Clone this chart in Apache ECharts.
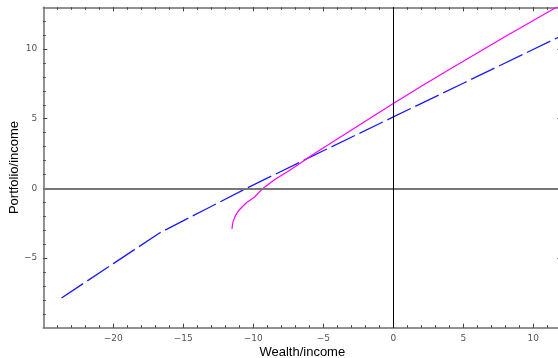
<!DOCTYPE html>
<html>
<head>
<meta charset="utf-8">
<script src="https://cdn.jsdelivr.net/npm/echarts@6/dist/echarts.min.js"></script>
<style>
  html, body { margin: 0; padding: 0; background: #fff; }
  #chart { width: 558px; height: 358px; }
</style>
</head>
<body>
<div id="chart"></div>
<script>
// wealth/income -> portfolio/income
const blueX = [-23.7, -20, -16.7, -13.5, -10.5, -5, 0, 5, 12];
const blueY = [-7.87, -5.4, -3.2, -1.55, 0, 2.7, 5.13, 7.55, 10.95];

const magentaX = [-11.52, -11.5, -11.44, -11.3, -11.15, -10.99, -10.75, -10.51, -9.91, -9.32, -8.49, -7.54, -6.7, -6.11, -5.6, -4, -2, 0, 2, 4, 6, 8, 10, 12];
const magentaY = [-2.91, -2.7, -2.37, -2.01, -1.75, -1.53, -1.28, -1.05, -0.62, 0, 0.62, 1.22, 1.77, 2.18, 2.52, 3.55, 4.82, 6.1, 7.33, 8.53, 9.72, 10.9, 12.05, 13.2];

const xMajor = [-20, -15, -10, -5, 0, 5, 10];
const yMajor = [-5, 0, 5, 10];
const xMinor = [];
for (let v = -24; v <= 11; v++) xMinor.push(v);
const yMinor = [];
for (let v = -9; v <= 12; v++) yMinor.push(v);

const X_MIN = -25, X_MAX = 12, Y_MIN = -10, Y_MAX = 13;

const fmt = v => (v < 0 ? '\u2212' + Math.abs(v) : String(v));
const frameColor = '#6e6e6e';
const tickFont = { color: '#555', fontSize: 9, fontFamily: 'DejaVu Sans' };

function frameAxis(kind, position, ticks, len, withLabels, withLine) {
  return {
    type: 'value',
    position: position,
    min: kind === 'x' ? X_MIN : Y_MIN,
    max: kind === 'x' ? X_MAX : Y_MAX,
    splitLine: { show: false },
    axisLine: { show: withLine, onZero: false, lineStyle: { color: frameColor, width: 1.5 } },
    axisTick: { show: true, inside: true, length: len, customValues: ticks, lineStyle: { color: '#444', width: 1 } },
    axisLabel: withLabels
      ? Object.assign({ show: true, customValues: ticks, formatter: fmt, margin: 6 }, tickFont)
      : { show: false },
  };
}

const chart = echarts.init(document.getElementById('chart'), null, { renderer: 'canvas' });

const xAxes = [
  frameAxis('x', 'bottom', xMajor, 4, true, true),
  frameAxis('x', 'bottom', xMinor, 2.5, false, false),
  frameAxis('x', 'top', xMajor, 4, false, true),
  frameAxis('x', 'top', xMinor, 2.5, false, false),
];
xAxes[0].name = 'Wealth/income';
xAxes[0].nameLocation = 'middle';
xAxes[0].nameGap = 18;
xAxes[0].nameMoveOverlap = false;
xAxes[0].nameTextStyle = { color: '#000', fontSize: 13, fontFamily: 'Liberation Sans' };

const yAxes = [
  frameAxis('y', 'left', yMajor, 4, true, true),
  frameAxis('y', 'left', yMinor, 2.5, false, false),
  frameAxis('y', 'right', yMajor, 4, false, true),
  frameAxis('y', 'right', yMinor, 2.5, false, false),
];
yAxes[0].name = 'Portfolio/income';
yAxes[0].nameLocation = 'middle';
yAxes[0].nameGap = 22;
yAxes[0].nameMoveOverlap = false;
yAxes[0].nameTextStyle = { color: '#000', fontSize: 13, fontFamily: 'Liberation Sans' };

chart.setOption({
  animation: false,
  backgroundColor: '#fff',
  grid: { left: 43.3, right: -3.3, top: 7.3, bottom: 30.3, containLabel: false, outerBoundsMode: 'none' },
  xAxis: xAxes,
  yAxis: yAxes,
  series: [
    {
      name: 'blue',
      type: 'line',
      data: blueX.map((x, i) => [x, blueY[i]]),
      showSymbol: false,
      clip: true,
      lineStyle: { color: '#1a1aff', width: 1.3, type: [26, 5] },
      markLine: {
        silent: true,
        symbol: 'none',
        label: { show: false },
        animation: false,
        data: [
          { yAxis: 0, lineStyle: { color: '#777', width: 2, type: 'solid' } },
          { xAxis: 0, lineStyle: { color: '#000', width: 1, type: 'solid' } },
        ],
      },
    },
    {
      name: 'magenta',
      type: 'line',
      data: magentaX.map((x, i) => [x, magentaY[i]]),
      showSymbol: false,
      clip: true,
      lineStyle: { color: '#ff00ff', width: 1.2 },
    },
  ],
});
</script>
</body>
</html>
